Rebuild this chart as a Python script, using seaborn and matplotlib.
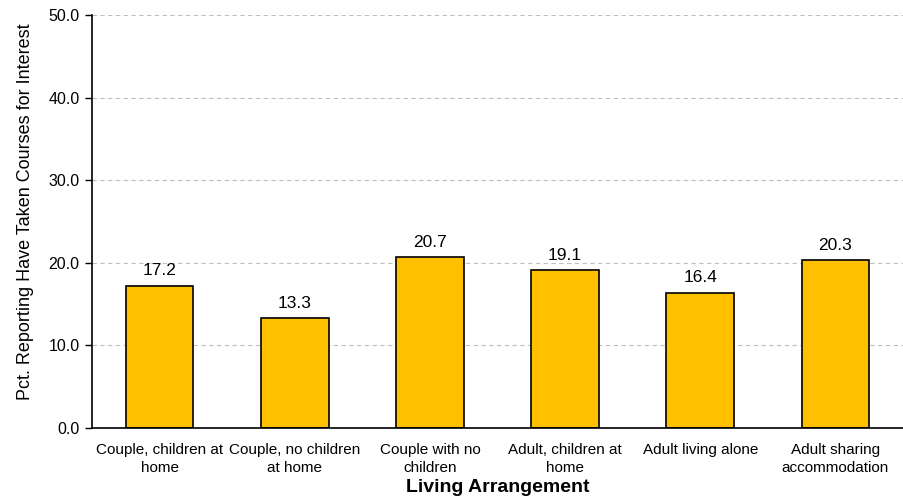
import pandas as pd
import matplotlib.pyplot as plt
import numpy as np
import seaborn as sns

categories = ["Couple, children at\nhome", "Couple, no children\nat home", "Couple with no\nchildren",
              "Adult, children at\nhome", "Adult living alone", "Adult sharing\naccommodation"]
values = [17.2, 13.3, 20.7, 19.1, 16.4, 20.3]

df = pd.DataFrame({"arrangement": categories, "pct": values})

sns.set_style("white")
plt.rcParams['font.family'] = ['Liberation Sans', 'DejaVu Sans']
plt.rcParams['text.color'] = 'black'
plt.rcParams['axes.labelcolor'] = 'black'
plt.rcParams['xtick.color'] = 'black'
plt.rcParams['ytick.color'] = 'black'

fig = plt.figure(figsize=(9.04, 4.99), dpi=100)
ax = fig.add_axes([92/904, 71/499, 811/904, 413/499])

sns.barplot(data=df, x="arrangement", y="pct", color="#FFC000", saturation=1,
            edgecolor="black", linewidth=1.2, width=0.5, ax=ax)

# value labels above bars
for i, v in enumerate(values):
    ax.text(i, v + 0.9, f"{v:.1f}", ha="center", va="bottom", fontsize=12.5)

ax.set_ylim(0, 50)
ax.set_xlim(-0.5, 5.5)
ax.set_yticks(np.arange(0, 51, 10))
ax.set_yticklabels([f"{t:.1f}" for t in np.arange(0, 51, 10)], fontsize=11.5)
ax.yaxis.grid(True, linestyle=(0, (4, 3)), color="#C0C0C0", linewidth=0.8)
ax.set_axisbelow(True)

ax.tick_params(axis="x", length=0, labelsize=11, pad=11)
for lab in ax.get_xticklabels():
    lab.set_linespacing(1.35)
# tick marks between categories
ax.set_xticks(np.arange(-0.5, 6, 1), minor=True)
ax.tick_params(axis="x", which="minor", length=5, width=1, direction="out", color="black")
ax.tick_params(axis="y", length=5, width=1, direction="out", color="black", left=True, pad=4)

for s in ["top", "right"]:
    ax.spines[s].set_visible(False)
for s in ["left", "bottom"]:
    ax.spines[s].set_color("black")
    ax.spines[s].set_linewidth(1.2)

ax.set_xlabel("Living Arrangement", fontsize=14, fontweight="bold", va="center")
ax.xaxis.set_label_coords(0.5, -0.145)
ax.set_ylabel("Pct. Reporting Have Taken Courses for Interest", fontsize=13, va="center")
ax.yaxis.set_label_coords(-0.0825, 0.523)

plt.savefig("out.png", dpi=100)
